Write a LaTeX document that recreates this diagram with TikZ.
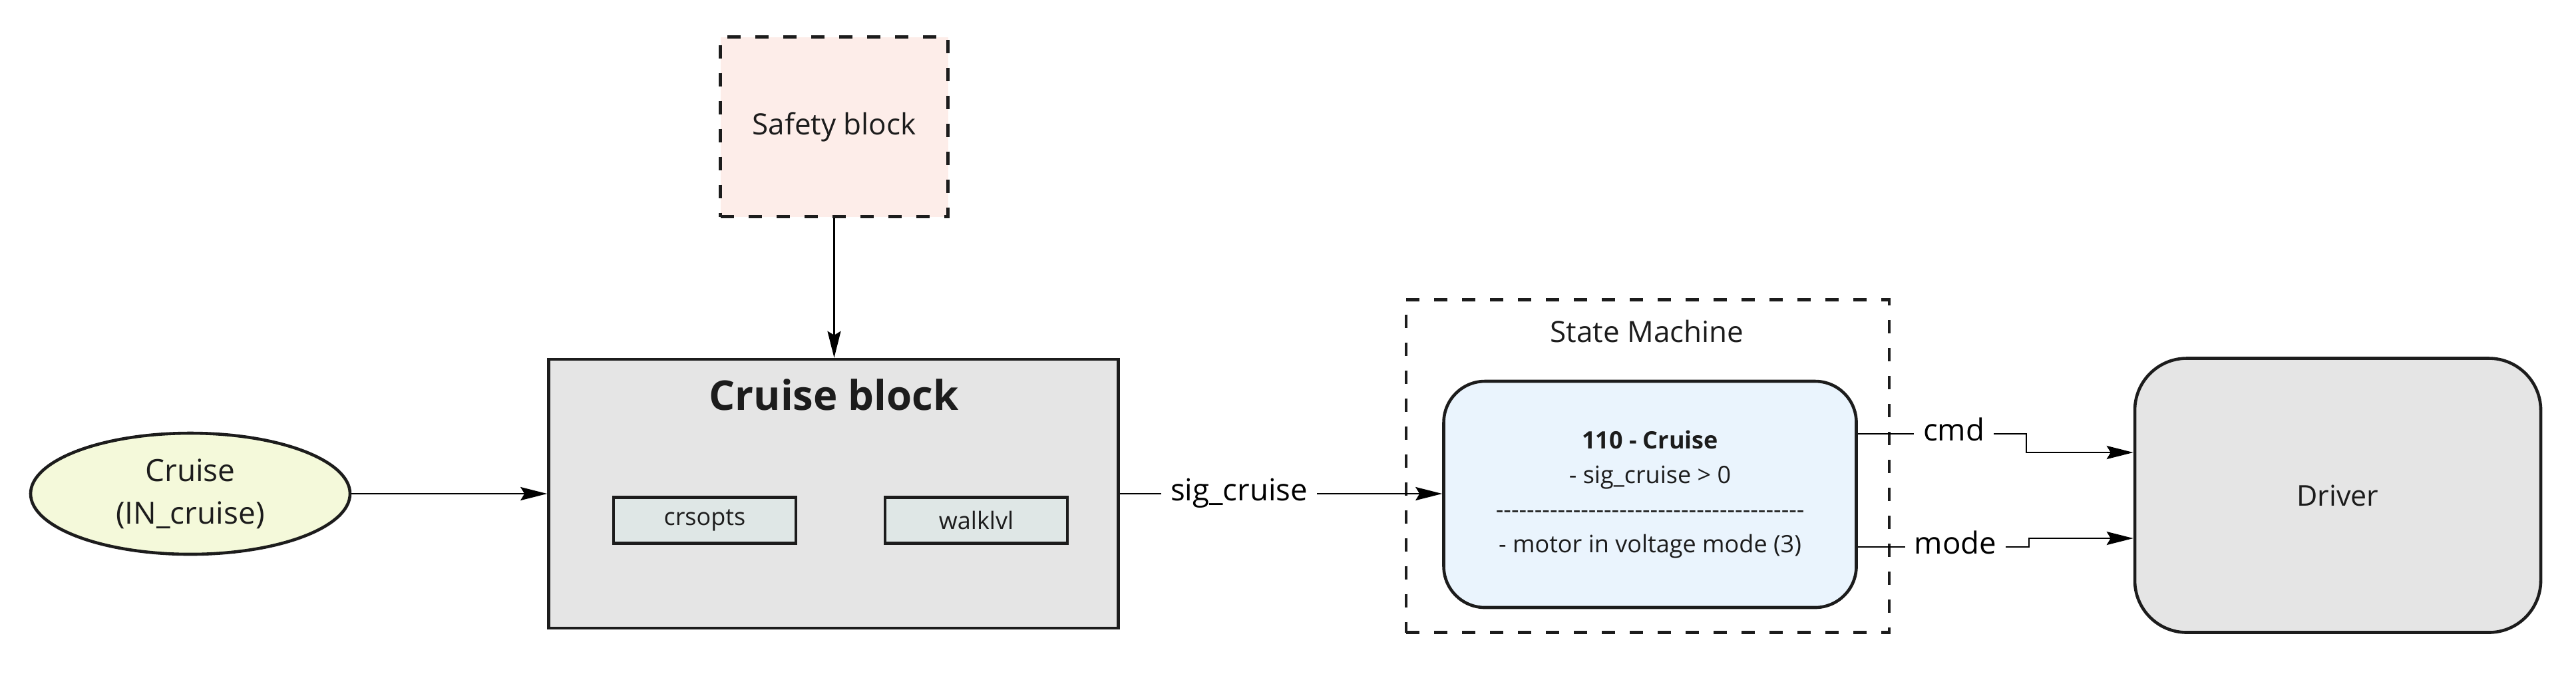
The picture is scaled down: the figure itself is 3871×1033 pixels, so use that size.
\documentclass[tikz,border=0pt]{standalone}
\usepackage{fontspec}
\setmainfont{Open Sans}
\usetikzlibrary{arrows.meta,shapes.geometric}
\definecolor{ink}{HTML}{1C1C1C}
\definecolor{cyel}{HTML}{F4F9DA}
\definecolor{cgray}{HTML}{E5E5E5}
\definecolor{cmint}{HTML}{DFE7E6}
\definecolor{cpink}{HTML}{FDEDE9}
\definecolor{cblue}{HTML}{EAF4FD}
\newcommand\hfive{-\kern0pt-\kern0pt-\kern0pt-\kern0pt-\kern0pt}
\begin{document}
\begin{tikzpicture}[x=0.25pt,y=-0.25pt,
  box/.style={draw=ink, line width=1.15pt, inner sep=0pt, text=ink},
  dbox/.style={box, dash pattern=on 5pt off 5.5pt, line width=1.2pt},
  arr/.style={draw=black, line width=0.65pt, -{Stealth[length=10pt,width=5pt,inset=1.5pt]}},
  lbl/.style={fill=white, inner xsep=3.5pt, inner ysep=1pt, anchor=mid, text=black, font=\fontsize{11.4}{13}\selectfont},
  txt/.style={text=ink, inner sep=0pt}]
\useasboundingbox (0,0) rectangle (3871,1033);

% nodes
\node[box, ellipse, fill=cyel, minimum width=120pt, minimum height=45.5pt, align=center,
      font=\fontsize{11.5}{16}\selectfont] (cruise) at (286,742) {Cruise\\(IN\_cruise)};

\node[box, fill=cgray, minimum width=214pt, minimum height=101pt] (cruiseblk) at (1252.5,742) {};
\node[txt, font=\bfseries\fontsize{15.4}{18}\selectfont] (cbtitle) at (1253,593) {Cruise block};
\node[box, fill=cmint, minimum width=68.5pt, minimum height=17.25pt, font=\fontsize{9}{11}\selectfont] (crsopts) at (1059,782) {crsopts};
\node[box, fill=cmint, minimum width=68.5pt, minimum height=17.25pt, font=\fontsize{9}{11}\selectfont] (walklvl) at (1467,782) {walklvl};

\node[dbox, fill=cpink, minimum width=85.5pt, minimum height=67.5pt, font=\fontsize{11}{13}\selectfont] (safety) at (1253.5,190.5) {Safety block};

\node[dbox, minimum width=181.5pt, minimum height=125pt] (sm) at (2476,700.5) {};
\node[txt, font=\fontsize{11}{13}\selectfont] (smtitle) at (2475,498) {State Machine};

\node[box, fill=cblue, rounded corners=15.5pt, minimum width=155pt, minimum height=85pt, align=center,
      font=\fontsize{9}{13}\selectfont] (st110) at (2479.5,743)
      {\textbf{110 - Cruise}\\- sig\_cruise > 0\\\hfive\hfive\hfive\hfive\hfive\hfive\hfive\hfive\\- motor in voltage mode (3)};

\node[box, fill=cgray, rounded corners=19.5pt, minimum width=152.5pt, minimum height=103pt,
      font=\fontsize{10.75}{13}\selectfont] (driver) at (3513,744.5) {Driver};

% helper coordinates for elbows
\coordinate (cmdA) at (3045,652);
\coordinate (cmdB) at (3045,680);
\coordinate (mdA) at (3049,822);
\coordinate (mdB) at (3049,809);

% connectors
\draw[arr] (cruise.east) -- (cruise.east -| cruiseblk.west);
\draw[arr] (safety.south) -- (safety.south |- cruiseblk.north);
\draw[arr] (cruiseblk.east) -- node[lbl, pos=0.37] {sig\_cruise} (cruiseblk.east -| st110.west);
\draw[arr] (st110.east |- cmdA) -- node[lbl, pos=0.57] {cmd} (cmdA) -- (cmdB) -- (driver.west |- cmdB);
\draw[arr] (st110.east |- mdA) -- node[lbl, pos=0.57] {mode} (mdA) -- (mdB) -- (driver.west |- mdB);
\end{tikzpicture}
\end{document}
